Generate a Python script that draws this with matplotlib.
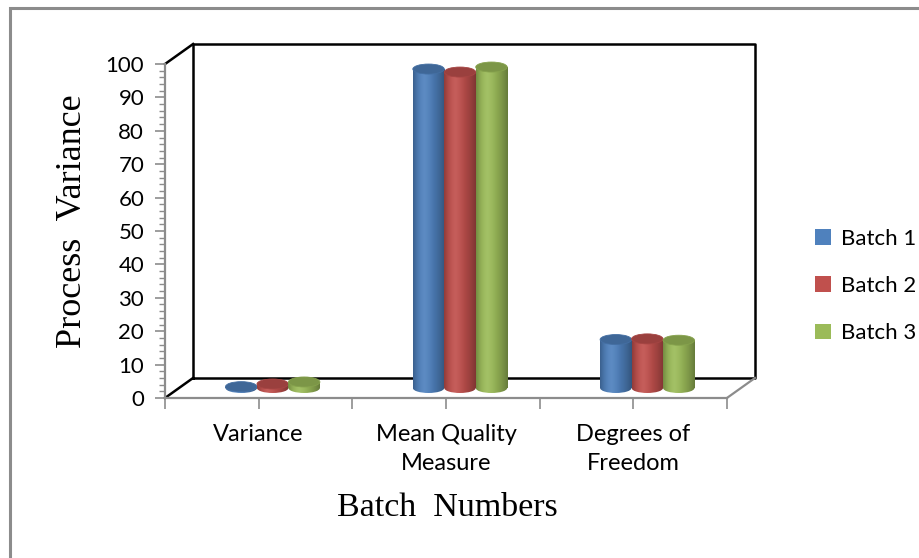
import numpy as np
import matplotlib
matplotlib.use("Agg")
import matplotlib.pyplot as plt
from matplotlib.patches import Rectangle, Ellipse, Patch
from matplotlib.colors import to_rgb

# ── Data ─────────────────────────────────────────────────────────────────────
categories = ["Variance", "Mean Quality\nMeasure", "Degrees of\nFreedom"]
series_names = ["Batch 1", "Batch 2", "Batch 3"]
batch1 = [0.4, 95.5, 14.5]
batch2 = [1.2, 94.6, 14.7]
batch3 = [1.8, 96.1, 14.3]
y_ticks = list(range(0, 101, 10))

COLORS = ["#4F81BD", "#C0504D", "#9BBB59"]
SANS = ["Lato", "DejaVu Sans"]
SERIF = ["Liberation Serif", "DejaVu Serif"]

# oblique depth of the 3-D box (category units, value units)
DX, DY = 0.15, 6.0
BAR_W = 0.168
ELL_H = 3.0


def cylinder_gradient(color, n=96):
    base = np.array(to_rgb(color))
    t = np.linspace(0, 1, n)
    peak = 0.36
    shade = np.where(t < peak,
                     1 - 0.25 * ((peak - t) / peak) ** 2,
                     1 - 0.34 * ((t - peak) / (1 - peak)) ** 1.6)
    rgb = base[None, :] * shade[:, None]
    glow = 0.08 * np.clip(1 - np.abs(t - peak) / 0.3, 0, 1)
    rgb = rgb + (1 - rgb) * glow[:, None]
    return np.clip(rgb, 0, 1)[None, :, :]


fig = plt.figure(figsize=(9.2, 5.58), dpi=100)
ax = fig.add_axes([165 / 920, 160 / 558, 590 / 920, 354 / 558])

# ── 3-D box (walls / floor) ──────────────────────────────────────────────────
x_lo, x_hi = -0.5, len(categories) - 0.5
ymax = y_ticks[-1]
black = dict(color="black", lw=1.8, clip_on=False, zorder=1, solid_capstyle="projecting")
grey = dict(color="#8C8C8C", lw=1.6, clip_on=False, zorder=1)
ax.plot([x_lo + DX, x_hi + DX, x_hi + DX, x_lo + DX, x_lo + DX],
        [DY, DY, ymax + DY, ymax + DY, DY], **black)
ax.plot([x_lo, x_lo + DX], [ymax, ymax + DY], **black)
ax.plot([x_lo, x_lo + DX], [0, DY], **black)
ax.plot([x_hi, x_hi + DX], [0, DY], **grey)
ax.plot([x_lo, x_hi], [0, 0], **grey)

# ── Cylinders ────────────────────────────────────────────────────────────────
all_series = [batch1, batch2, batch3]
for j, (vals, col) in enumerate(zip(all_series, COLORS)):
    grad = cylinder_gradient(col)
    top_col = np.array(to_rgb(col)) * 0.8
    for i, v in enumerate(vals):
        xc = i + DX / 2 + (j - 1) * BAR_W
        x0, x1 = xc - BAR_W / 2, xc + BAR_W / 2
        yb, yt = DY / 2, DY / 2 + v
        z = 3 + j * 0.1
        body = Rectangle((x0, yb), BAR_W, v, transform=ax.transData)
        im = ax.imshow(grad, extent=[x0, x1, yb - ELL_H / 2, yt], aspect="auto",
                       interpolation="bilinear", zorder=z)
        im.set_clip_path(body)
        bottom = Ellipse((xc, yb), BAR_W, ELL_H, transform=ax.transData)
        im2 = ax.imshow(grad, extent=[x0, x1, yb - ELL_H / 2, yt], aspect="auto",
                        interpolation="bilinear", zorder=z)
        im2.set_clip_path(bottom)
        ax.add_patch(Ellipse((xc, yt), BAR_W, ELL_H, facecolor=top_col,
                             edgecolor=np.clip(top_col * 1.08, 0, 1), lw=0.6, zorder=z + 0.05))

ax.set_xlim(x_lo, x_hi + DX)
ax.set_ylim(0, ymax + DY)

# ── Axes, ticks, labels ──────────────────────────────────────────────────────
for s in ["top", "right", "bottom"]:
    ax.spines[s].set_visible(False)
ax.spines["left"].set_bounds(0, ymax)
ax.spines["left"].set_color("#8C8C8C")
ax.spines["left"].set_linewidth(1.6)

ax.set_yticks(y_ticks)
ax.set_yticks(np.arange(0, ymax + 1, 2), minor=True)
ax.tick_params(axis="y", which="major", length=7, width=1.2, color="#8C8C8C",
               labelsize=16, pad=8)
ax.tick_params(axis="y", which="minor", length=4, width=1.0, color="#8C8C8C")

half = np.arange(x_lo, x_hi + 0.01, 0.5)
ax.set_xticks(half)
ax.set_xticklabels(["" if abs(h - round(h)) > 0.01 else categories[int(round(h))]
                    for h in half])
ax.tick_params(axis="x", which="major", length=8, width=1.2, color="#8C8C8C",
               labelsize=17, pad=11)
for lbl in ax.get_xticklabels() + ax.get_yticklabels():
    lbl.set_family(SANS)
for lbl in ax.get_xticklabels():
    lbl.set_linespacing(1.45)

ax.set_ylabel("Process  Variance", family=SERIF, fontsize=26, labelpad=12)
fig.text(447 / 920, 1 - 508 / 558, "Batch  Numbers", family=SERIF, fontsize=24.5,
         ha="center", va="center")

ax.patch.set_visible(False)

# ── Legend ───────────────────────────────────────────────────────────────────
handles = [Patch(facecolor=c, edgecolor="none") for c in COLORS]
leg = fig.legend(handles, series_names, loc="center left",
                 bbox_to_anchor=(795 / 920, 1 - 286 / 558), frameon=False,
                 prop={"family": SANS, "size": 16}, handlelength=0.7,
                 handleheight=0.7, handletextpad=0.45, labelspacing=1.22)

# ── Outer chart border ───────────────────────────────────────────────────────
fig.patches.append(Rectangle((10 / 920, -0.1), 1.2, 1.1 - 8 / 558,
                             transform=fig.transFigure, fill=False,
                             edgecolor="#8C8C8C", lw=2.2))

fig.savefig("out.png", dpi=100)
